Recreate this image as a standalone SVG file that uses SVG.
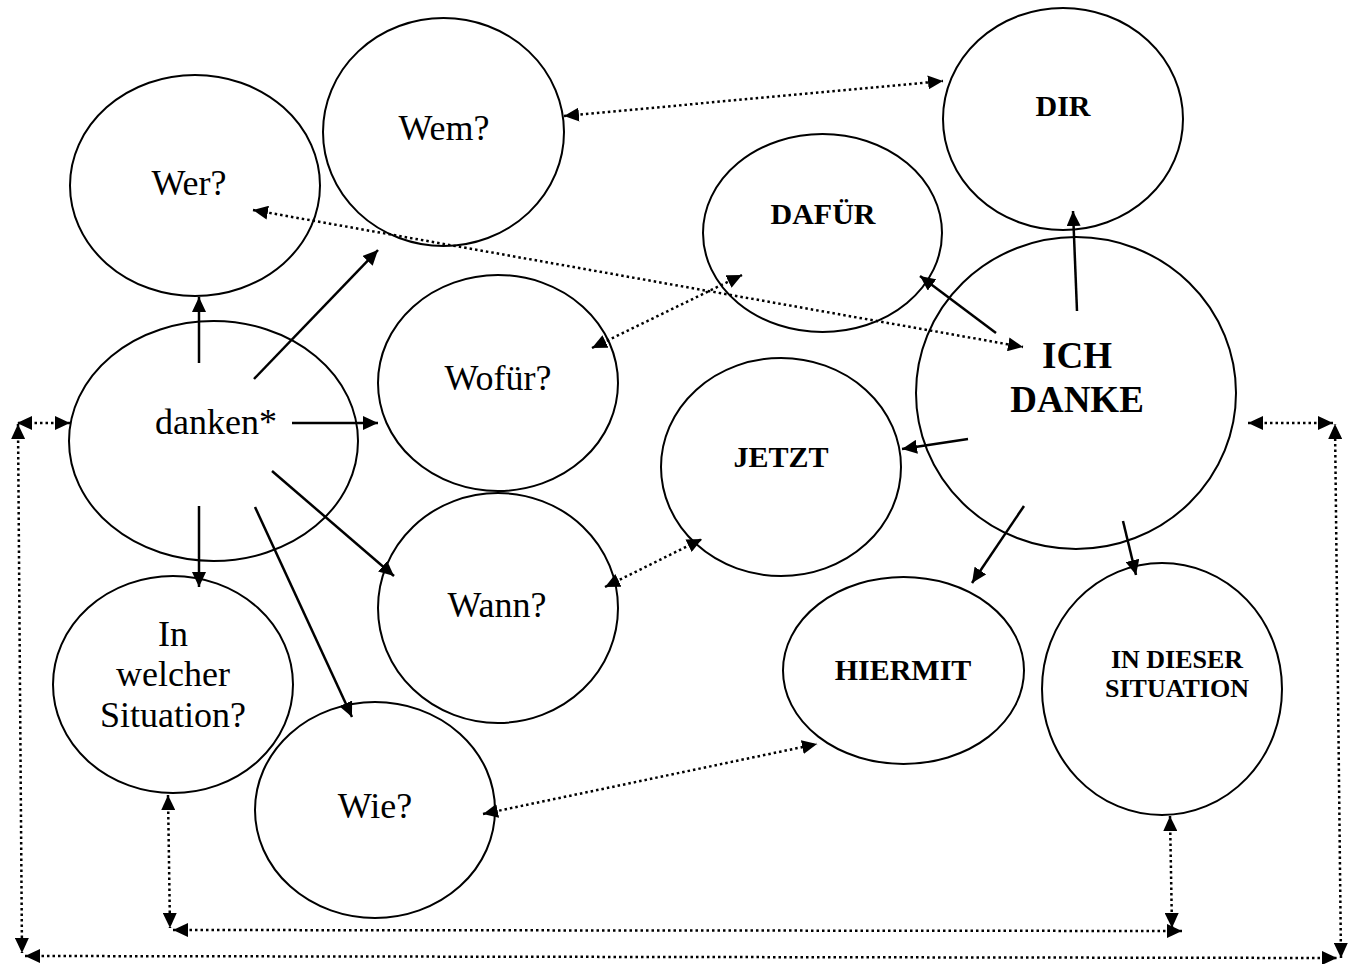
<svg xmlns="http://www.w3.org/2000/svg" width="1357" height="964" viewBox="0 0 1357 964">
  <style>
    .node ellipse { fill: none; stroke: #000; stroke-width: 2; }
    .q { font-family: "Liberation Serif", "Times New Roman", serif; font-size: 36px; fill: #000; text-anchor: middle; }
    .b { font-family: "Liberation Serif", "Times New Roman", serif; font-weight: bold; font-size: 30px; fill: #000; text-anchor: middle; }
    .solid { stroke: #000; stroke-width: 2.5; fill: none; marker-end: url(#head); }
    .dot { stroke: #000; stroke-width: 2.5; fill: none; stroke-dasharray: 2.5 3; marker-start: url(#head); marker-end: url(#head); }
  </style>
  <defs>
    <marker id="head" markerUnits="userSpaceOnUse" markerWidth="15" markerHeight="14" refX="15" refY="7" orient="auto-start-reverse" viewBox="0 0 15 14">
      <path d="M0,0 L15,7 L0,14 z" fill="#000"/>
    </marker>
  </defs>
  <rect width="1357" height="964" fill="#fff"/>

  <!-- question nodes -->
  <g id="wer" class="node">
    <ellipse cx="195" cy="185.5" rx="125" ry="110.5"/>
    <text class="q" x="189" y="195">Wer?</text>
  </g>
  <g id="wem" class="node">
    <ellipse cx="443.5" cy="132" rx="120.5" ry="114"/>
    <text class="q" x="444" y="140">Wem?</text>
  </g>
  <g id="danken" class="node">
    <ellipse cx="213.5" cy="441" rx="144.5" ry="120"/>
    <text class="q" x="216" y="434">danken*</text>
  </g>
  <g id="wofuer" class="node">
    <ellipse cx="498" cy="383" rx="120" ry="108"/>
    <text class="q" x="498" y="390">Wofür?</text>
  </g>
  <g id="wann" class="node">
    <ellipse cx="498" cy="608" rx="120" ry="115"/>
    <text class="q" x="497" y="617">Wann?</text>
  </g>
  <g id="situation-q" class="node">
    <ellipse cx="173" cy="684.5" rx="120" ry="108.5"/>
    <text class="q" x="173" y="646">In</text>
    <text class="q" x="173" y="686">welcher</text>
    <text class="q" x="173" y="727">Situation?</text>
  </g>
  <g id="wie" class="node">
    <ellipse cx="375" cy="810" rx="120" ry="108"/>
    <text class="q" x="375" y="818">Wie?</text>
  </g>

  <!-- answer nodes -->
  <g id="dir" class="node">
    <ellipse cx="1063" cy="119" rx="120" ry="111"/>
    <text class="b" x="1063" y="116">DIR</text>
  </g>
  <g id="dafuer" class="node">
    <ellipse cx="822.5" cy="233" rx="119.5" ry="99"/>
    <text class="b" x="823" y="224">DAFÜR</text>
  </g>
  <g id="ich-danke" class="node">
    <ellipse cx="1076" cy="393" rx="160" ry="156"/>
    <text class="b" style="font-size:37px" x="1077" y="368">ICH</text>
    <text class="b" style="font-size:37px" x="1077" y="412">DANKE</text>
  </g>
  <g id="jetzt" class="node">
    <ellipse cx="781" cy="467" rx="120" ry="109"/>
    <text class="b" x="781" y="467">JETZT</text>
  </g>
  <g id="hiermit" class="node">
    <ellipse cx="903.5" cy="670.5" rx="120.5" ry="93.5"/>
    <text class="b" x="903" y="680">HIERMIT</text>
  </g>
  <g id="in-dieser-situation" class="node">
    <ellipse cx="1162" cy="689" rx="120" ry="126"/>
    <text class="b" style="font-size:26px" x="1177" y="668">IN DIESER</text>
    <text class="b" style="font-size:26px" x="1177" y="697">SITUATION</text>
  </g>

  <!-- connectors -->
  <g id="connectors">
    <!-- from danken* to the questions -->
    <line class="solid" x1="199" y1="363" x2="199" y2="297"/>
    <line class="solid" x1="254" y1="379" x2="378" y2="250"/>
    <line class="solid" x1="292" y1="423" x2="378" y2="423"/>
    <line class="solid" x1="272" y1="471" x2="394" y2="576"/>
    <line class="solid" x1="199" y1="506" x2="199" y2="587"/>
    <line class="solid" x1="255" y1="507" x2="352" y2="717"/>

    <!-- from ICH DANKE to the answers -->
    <line class="solid" x1="1077" y1="311" x2="1073" y2="211"/>
    <line class="solid" x1="996" y1="333" x2="920" y2="276"/>
    <line class="solid" x1="968" y1="439" x2="902" y2="449"/>
    <line class="solid" x1="1024" y1="506" x2="972" y2="583"/>
    <line class="solid" x1="1123" y1="521" x2="1136" y2="575"/>

    <!-- question ↔ answer pairs -->
    <line class="dot" x1="564" y1="116" x2="943" y2="81"/>
    <line class="dot" x1="253" y1="210" x2="1023" y2="347"/>
    <line class="dot" x1="592" y1="348" x2="742" y2="275"/>
    <line class="dot" x1="605" y1="587" x2="702" y2="539"/>
    <line class="dot" x1="483" y1="814" x2="817" y2="744"/>

    <!-- inner frame: In welcher Situation? ↔ IN DIESER SITUATION -->
    <line class="dot" x1="168" y1="795" x2="170" y2="928"/>
    <line class="dot" x1="173" y1="930" x2="1182" y2="931"/>
    <line class="dot" x1="1170" y1="816" x2="1172" y2="928"/>

    <!-- outer frame: danken* ↔ ICH DANKE -->
    <line class="dot" x1="70" y1="423" x2="17" y2="423"/>
    <line class="dot" x1="18" y1="424" x2="22" y2="953"/>
    <line class="dot" x1="25" y1="956" x2="1337" y2="958"/>
    <line class="dot" x1="1341" y1="958" x2="1335" y2="424"/>
    <line class="dot" x1="1248" y1="423" x2="1333" y2="423"/>
  </g>
</svg>
